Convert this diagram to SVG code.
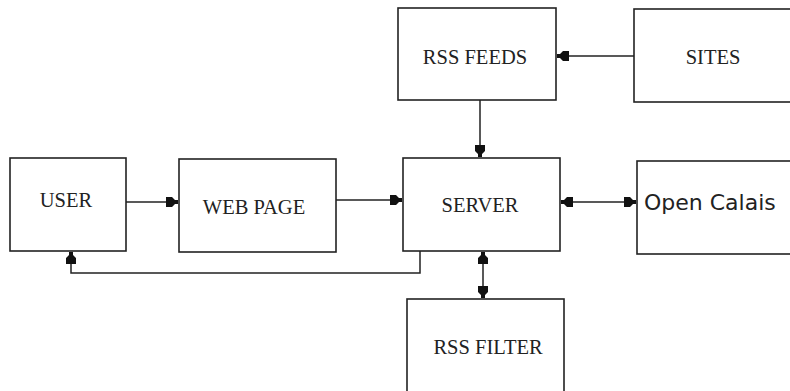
<svg xmlns="http://www.w3.org/2000/svg" width="790" height="391" viewBox="0 0 790 391">
<style>
.box{fill:#fff;stroke:#222;stroke-width:1.6}
.lbl{font-family:"Liberation Serif","Times New Roman",serif;font-size:20.5px;fill:#222;text-anchor:middle}
.sans{font-family:"DejaVu Sans",sans-serif;font-size:22px;fill:#222}
.conn{fill:none;stroke:#222;stroke-width:1.5}
</style>
<defs>
<marker id="ah" markerUnits="userSpaceOnUse" markerWidth="14" markerHeight="12" viewBox="-13 -6 14 12" refX="0" refY="0" orient="auto-start-reverse">
<path d="M-12,-5 L-6,-5 L-3,-2 L0,-2 L0,2 L-3,2 L-6,5 L-12,5 Z" fill="#111"/>
</marker>
</defs>
<rect width="790" height="391" fill="#fff"/>
<g id="rss-feeds"><rect class="box" x="398" y="8" width="158" height="92"/><text class="lbl" x="475" y="64">RSS FEEDS</text></g>
<g id="sites"><rect class="box" x="634" y="9" width="160" height="93"/><text class="lbl" x="713" y="64">SITES</text></g>
<g id="user"><rect class="box" x="10" y="158" width="116" height="93"/><text class="lbl" x="66" y="207">USER</text></g>
<g id="web-page"><rect class="box" x="179" y="159" width="157" height="93"/><text class="lbl" x="254" y="214">WEB PAGE</text></g>
<g id="server"><rect class="box" x="403" y="158" width="157" height="93"/><text class="lbl" x="480" y="212">SERVER</text></g>
<g id="open-calais"><rect class="box" x="637" y="161" width="160" height="93"/><text class="sans" x="644" y="210">Open Calais</text></g>
<g id="rss-filter"><rect class="box" x="407" y="299" width="157" height="100"/><text class="lbl" x="488" y="354">RSS FILTER</text></g>
<g id="connectors">
<line class="conn" x1="634" y1="56" x2="557" y2="56" marker-end="url(#ah)"/>
<line class="conn" x1="480" y1="100" x2="480" y2="157" marker-end="url(#ah)"/>
<line class="conn" x1="126" y1="202" x2="178" y2="202" marker-end="url(#ah)"/>
<line class="conn" x1="336" y1="200" x2="402" y2="200" marker-end="url(#ah)"/>
<line class="conn" x1="561" y1="202" x2="636" y2="202" marker-start="url(#ah)" marker-end="url(#ah)"/>
<line class="conn" x1="483" y1="252" x2="483" y2="298" marker-start="url(#ah)" marker-end="url(#ah)"/>
<polyline class="conn" points="420,251 420,273 71,273 71,252" marker-end="url(#ah)"/>
</g>
</svg>
